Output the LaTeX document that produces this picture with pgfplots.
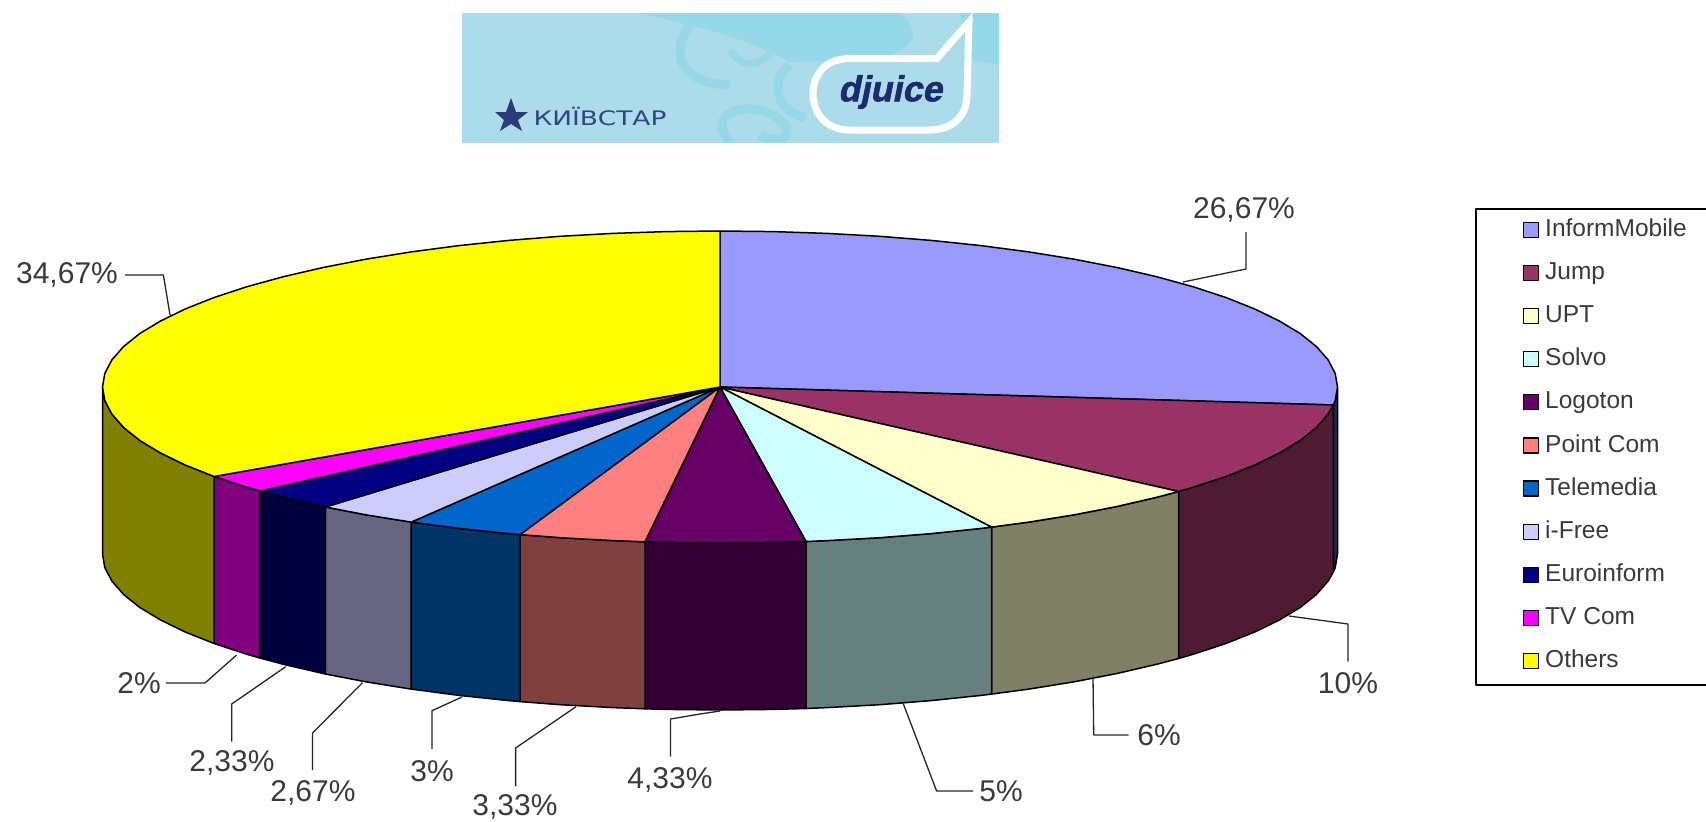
\documentclass[border=0pt]{standalone}
\usepackage{fontspec}
\setmainfont{Liberation Sans}
\newfontfamily\logofont{DejaVu Sans}
\newfontfamily\djfont[FakeBold=1.6,FakeSlant=0.2]{Liberation Sans Bold}
\usepackage{pgfplots}
\pgfplotsset{compat=1.18}
\definecolor{cInf}{HTML}{9999FF}\definecolor{sInf}{HTML}{26264D}
\definecolor{cJum}{HTML}{993366}\definecolor{sJum}{HTML}{4D1C33}
\definecolor{cUpt}{HTML}{FFFFCC}\definecolor{sUpt}{HTML}{808066}
\definecolor{cSol}{HTML}{CCFFFF}\definecolor{sSol}{HTML}{668080}
\definecolor{cLog}{HTML}{660066}\definecolor{sLog}{HTML}{330033}
\definecolor{cPoi}{HTML}{FF8080}\definecolor{sPoi}{HTML}{804040}
\definecolor{cTel}{HTML}{0066CC}\definecolor{sTel}{HTML}{003366}
\definecolor{cFre}{HTML}{CCCCFF}\definecolor{sFre}{HTML}{666680}
\definecolor{cEur}{HTML}{000080}\definecolor{sEur}{HTML}{000040}
\definecolor{cTvc}{HTML}{FF00FF}\definecolor{sTvc}{HTML}{800080}
\definecolor{cOth}{HTML}{FFFF00}\definecolor{sOth}{HTML}{808000}
\definecolor{logobg}{HTML}{ACDCE9}
\definecolor{logosw}{HTML}{95D8E7}
\definecolor{logonavy}{HTML}{1C2A6E}
\definecolor{labtxt}{HTML}{3A3A3A}
\newcommand{\lab}[3]{\node[anchor=center,inner sep=0pt,text=labtxt,font=\fontsize{30}{30}\selectfont] at (axis cs:#1,#2) {#3};}
\newcommand{\lead}[1]{\addplot[draw=black!85,line width=1.3pt] coordinates {#1};}
\newcommand{\leg}[3]{%
  \addplot[only marks,mark=square*,mark size=7.5pt,mark options={fill=#2,draw=black,line width=1.3pt}] coordinates {(1530.7,#1)};
  \node[anchor=west,inner sep=0pt,text height=18pt,text depth=5pt,text=labtxt,font=\fontsize{24.5}{24.5}\selectfont] at (axis cs:1545,#1) {#3};}
\begin{document}
\begin{tikzpicture}
\begin{axis}[
  scale only axis,width=1706pt,height=822pt,
  xmin=0,xmax=1706,ymin=0,ymax=822,y dir=reverse,
  ticks=none,
  axis line style={draw=none},
  every axis plot/.append style={line join=round}]

% --- logo
\fill[logobg] (axis cs:461.5,13) rectangle (axis cs:998.6,142.7);
\begin{scope}
\clip (axis cs:461.5,13) rectangle (axis cs:998.6,142.7);
\fill[logosw] (axis cs:640,13) -- (axis cs:900,13) .. controls (axis cs:925,35) and (axis cs:915,55) .. (axis cs:860,60) -- (axis cs:790,62) .. controls (axis cs:740,35) and (axis cs:690,25) .. (axis cs:640,13) -- cycle;
\fill[logosw] (axis cs:960,13) -- (axis cs:998.6,13) -- (axis cs:998.6,65) -- (axis cs:972,60) -- cycle;
\draw[logosw,line width=9pt] (axis cs:690,25) .. controls (axis cs:665,60) and (axis cs:690,85) .. (axis cs:730,85);
\draw[logosw,line width=7pt] (axis cs:730,50) .. controls (axis cs:745,75) and (axis cs:770,60) .. (axis cs:775,45);
\draw[logosw,line width=9pt] (axis cs:790,65) .. controls (axis cs:770,80) and (axis cs:775,110) .. (axis cs:805,118);
\draw[logosw,line width=9pt] (axis cs:730,142) .. controls (axis cs:700,110) and (axis cs:760,95) .. (axis cs:785,125) .. controls (axis cs:795,142) and (axis cs:770,142) .. (axis cs:760,135);
\end{scope}
\draw[white,line width=7pt,fill=logobg,line join=miter]
  (axis cs:850,58.5) -- (axis cs:937,58.5) -- (axis cs:969,22) -- (axis cs:967,95)
  .. controls (axis cs:967,118) and (axis cs:950,130) .. (axis cs:930,130)
  -- (axis cs:850,130)
  .. controls (axis cs:825,130) and (axis cs:813,112) .. (axis cs:813,94)
  .. controls (axis cs:813,75) and (axis cs:825,58.5) .. (axis cs:850,58.5) -- cycle;
\node[anchor=center,inner sep=0pt,text=logonavy,font=\djfont\fontsize{36}{36}\selectfont] at (axis cs:890,92) {djuice};
\node[anchor=center,inner sep=0pt,xscale=1.32,text=logonavy!85!logobg,font=\logofont\fontsize{20}{20}\selectfont] at (axis cs:600,117) {КИЇВСТАР};
\fill[logonavy!90!logobg] (axis cs:511,98) -- (axis cs:516,112) -- (axis cs:528,112) -- (axis cs:518,120) -- (axis cs:522,131) -- (axis cs:511,124) -- (axis cs:500,131) -- (axis cs:504,120) -- (axis cs:495,112) -- (axis cs:506,112) -- cycle;

% --- side walls of the pie
\addplot[fill=sInf,draw=black,line width=1.5pt] coordinates {(1337.5,387)(1335.2,400.6)(1333.4,405)(1333.4,572)(1335.2,567.6)(1337.5,554)(1337.5,387)};
\addplot[fill=sJum,draw=black,line width=1.5pt] coordinates {(1333.4,405)(1328.1,414.1)(1316.5,427.4)(1300.3,440.4)(1279.6,452.9)(1254.8,465)(1225.9,476.5)(1193,487.3)(1178.6,491.5)(1178.6,658.5)(1193,654.3)(1225.9,643.5)(1254.8,632)(1279.6,619.9)(1300.3,607.4)(1316.5,594.4)(1328.1,581.1)(1333.4,572)(1333.4,405)};
\addplot[fill=sUpt,draw=black,line width=1.5pt] coordinates {(1178.6,491.5)(1156.6,497.3)(1116.9,506.5)(1074.2,514.8)(1028.8,522.1)(991.5,527.1)(991.5,694.1)(1028.8,689.1)(1074.2,681.8)(1116.9,673.5)(1156.6,664.3)(1178.6,658.5)(1178.6,491.5)};
\addplot[fill=sSol,draw=black,line width=1.5pt] coordinates {(991.5,527.1)(981,528.4)(931.2,533.6)(879.8,537.7)(827.2,540.6)(806,541.5)(806,708.5)(827.2,707.6)(879.8,704.7)(931.2,700.6)(981,695.4)(991.5,694.1)(991.5,527.1)};
\addplot[fill=sLog,draw=black,line width=1.5pt] coordinates {(806,541.5)(773.8,542.4)(720,543)(666.2,542.4)(645,541.8)(645,708.8)(666.2,709.4)(720,710)(773.8,709.4)(806,708.5)(806,541.5)};
\addplot[fill=sPoi,draw=black,line width=1.5pt] coordinates {(645,541.8)(612.8,540.6)(560.2,537.7)(520,534.6)(520,701.6)(560.2,704.7)(612.8,707.6)(645,708.8)(645,541.8)};
\addplot[fill=sTel,draw=black,line width=1.5pt] coordinates {(520,534.6)(508.8,533.6)(459,528.4)(411.2,522.1)(411.2,689.1)(459,695.4)(508.8,700.6)(520,701.6)(520,534.6)};
\addplot[fill=sFre,draw=black,line width=1.5pt] coordinates {(411.2,522.1)(365.8,514.8)(325.4,507)(325.4,674)(365.8,681.8)(411.2,689.1)(411.2,522.1)};
\addplot[fill=sEur,draw=black,line width=1.5pt] coordinates {(325.4,507)(283.4,497.3)(260,491)(260,658)(283.4,664.3)(325.4,674)(325.4,507)};
\addplot[fill=sTvc,draw=black,line width=1.5pt] coordinates {(260,491)(247,487.3)(214.1,476.5)(214.1,643.5)(247,654.3)(260,658)(260,491)};
\addplot[fill=sOth,draw=black,line width=1.5pt] coordinates {(214.1,476.5)(185.2,465)(160.4,452.9)(139.7,440.4)(123.5,427.4)(111.9,414.1)(104.8,400.6)(102.5,387)(102.5,554)(104.8,567.6)(111.9,581.1)(123.5,594.4)(139.7,607.4)(160.4,619.9)(185.2,632)(214.1,643.5)(214.1,476.5)};

% --- top face of the pie
\addplot[fill=cInf,draw=black,line width=1.5pt] coordinates {(720,387)(720,231)(773.8,231.6)(827.2,233.4)(879.8,236.3)(931.2,240.4)(981,245.6)(1028.8,251.9)(1074.2,259.2)(1116.9,267.5)(1156.6,276.7)(1193,286.7)(1225.9,297.5)(1254.8,309)(1279.6,321.1)(1300.3,333.6)(1316.5,346.6)(1328.1,359.9)(1335.2,373.4)(1337.5,387)(1335.2,400.6)(1333.4,405)(720,387)};
\addplot[fill=cJum,draw=black,line width=1.5pt] coordinates {(720,387)(1333.4,405)(1328.1,414.1)(1316.5,427.4)(1300.3,440.4)(1279.6,452.9)(1254.8,465)(1225.9,476.5)(1193,487.3)(1178.6,491.5)(720,387)};
\addplot[fill=cUpt,draw=black,line width=1.5pt] coordinates {(720,387)(1178.6,491.5)(1156.6,497.3)(1116.9,506.5)(1074.2,514.8)(1028.8,522.1)(991.5,527.1)(720,387)};
\addplot[fill=cSol,draw=black,line width=1.5pt] coordinates {(720,387)(991.5,527.1)(981,528.4)(931.2,533.6)(879.8,537.7)(827.2,540.6)(806,541.5)(720,387)};
\addplot[fill=cLog,draw=black,line width=1.5pt] coordinates {(720,387)(806,541.5)(773.8,542.4)(720,543)(666.2,542.4)(645,541.8)(720,387)};
\addplot[fill=cPoi,draw=black,line width=1.5pt] coordinates {(720,387)(645,541.8)(612.8,540.6)(560.2,537.7)(520,534.6)(720,387)};
\addplot[fill=cTel,draw=black,line width=1.5pt] coordinates {(720,387)(520,534.6)(508.8,533.6)(459,528.4)(411.2,522.1)(720,387)};
\addplot[fill=cFre,draw=black,line width=1.5pt] coordinates {(720,387)(411.2,522.1)(365.8,514.8)(325.4,507)(720,387)};
\addplot[fill=cEur,draw=black,line width=1.5pt] coordinates {(720,387)(325.4,507)(283.4,497.3)(260,491)(720,387)};
\addplot[fill=cTvc,draw=black,line width=1.5pt] coordinates {(720,387)(260,491)(247,487.3)(214.1,476.5)(720,387)};
\addplot[fill=cOth,draw=black,line width=1.5pt] coordinates {(720,387)(214.1,476.5)(185.2,465)(160.4,452.9)(139.7,440.4)(123.5,427.4)(111.9,414.1)(104.8,400.6)(102.5,387)(104.8,373.4)(111.9,359.9)(123.5,346.6)(139.7,333.6)(160.4,321.1)(185.2,309)(214.1,297.5)(247,286.7)(283.4,276.7)(323.1,267.5)(365.8,259.2)(411.2,251.9)(459,245.6)(508.8,240.4)(560.2,236.3)(612.8,233.4)(666.2,231.6)(720,231)(720,387)};

% --- leader lines
\lead{(125,275)(163.4,275)(170,315)}
\lead{(1246,232)(1246,269)(1183,282)}
\lead{(166,683)(205,683)(236.6,655)}
\lead{(231.7,741.7)(231.7,704)(285.7,666.7)}
\lead{(312.5,770)(312.5,733)(362.5,682.7)}
\lead{(432,749)(432,710.7)(462,697)}
\lead{(515.6,786)(515.6,748)(576,706.7)}
\lead{(670.5,756.7)(670.5,719)(700,714)(720,711)}
\lead{(973,791)(936.6,791)(903,703)}
\lead{(1128.6,735)(1093.7,735)(1093,676.7)}
\lead{(1348,661.7)(1348,624)(1289,616)}

% --- percentage labels
\lab{67}{275}{34,67\%}
\lab{1244}{210}{26,67\%}
\lab{139}{683}{2\%}
\lab{232}{763}{2,33\%}
\lab{313}{793}{2,67\%}
\lab{432}{771}{3\%}
\lab{515}{807}{3,33\%}
\lab{670}{780}{4,33\%}
\lab{1001}{791}{5\%}
\lab{1159}{735}{6\%}
\lab{1348}{683}{10\%}

% --- legend
\addplot[draw=black,line width=1.5pt] coordinates {(1706,209)(1476,209)(1476,685)(1706,685)};
\leg{230}{cInf}{InformMobile}
\leg{273}{cJum}{Jump}
\leg{316}{cUpt}{UPT}
\leg{359}{cSol}{Solvo}
\leg{402}{cLog}{Logoton}
\leg{445.5}{cPoi}{Point Com}
\leg{488.5}{cTel}{Telemedia}
\leg{532}{cFre}{i-Free}
\leg{575}{cEur}{Euroinform}
\leg{618}{cTvc}{TV Com}
\leg{661}{cOth}{Others}
\end{axis}
\end{tikzpicture}
\end{document}
